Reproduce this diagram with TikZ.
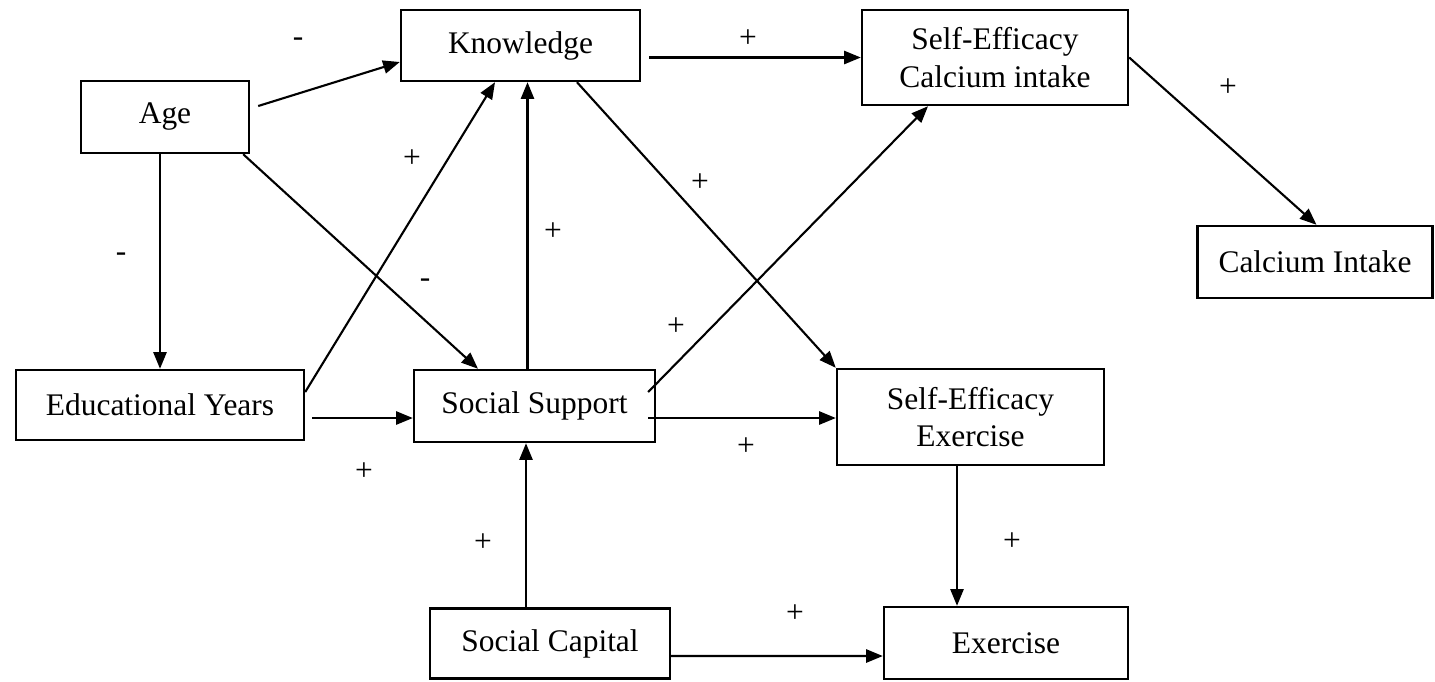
\documentclass[tikz,border=0pt]{standalone}
\usepackage{fontspec}
\setmainfont{Liberation Serif}
\usetikzlibrary{arrows.meta}

\begin{document}
\begin{tikzpicture}[
  x=0.02cm, y=-0.02cm,
  box/.style={draw,line width=1.4pt,align=center,inner sep=0pt,font=\fontsize{17.9}{21.5}\selectfont},
  arrow/.style={-{Triangle[length=9.5pt,width=7.5pt]},line width=1.2pt},
  sign/.style={inner sep=0pt,font=\fontsize{17.9}{21.5}\selectfont}
]
\useasboundingbox (0,0) rectangle (1435,681);
% variables
\node[box,minimum width=3.36cm,minimum height=1.44cm] (age) at (165,117) {Age};
\node[box,minimum width=4.78cm,minimum height=1.42cm] (know) at (520.5,45.5) {Knowledge};
\node[box,minimum width=5.32cm,minimum height=1.9cm] (sec) at (995,57.5) {Self-Efficacy\\Calcium intake};
\node[box,minimum width=4.7cm,minimum height=1.44cm] (ci) at (1315,262) {Calcium Intake};
\node[box,minimum width=5.76cm,minimum height=1.4cm] (edu) at (160,405) {Educational Years};
\node[box,minimum width=4.82cm,minimum height=1.44cm] (ss) at (534.5,406) {Social Support};
\node[box,minimum width=5.34cm,minimum height=1.92cm] (see) at (970.5,417) {Self-Efficacy\\Exercise};
\node[box,minimum width=4.8cm,minimum height=1.4cm] (soc) at (550,643.5) {Social Capital};
\node[box,minimum width=4.88cm,minimum height=1.44cm] (ex) at (1006,643) {Exercise};
% paths
\draw[arrow] ([shift={(8,-11)}]age.east) -- ([shift={(0,16.5)}]know.west);
\draw[arrow] ([shift={(8,12)}]know.east) -- (sec.west);
\draw[arrow] (sec.east) -- ([shift={(1.5,0)}]ci.north);
\draw[arrow] (age.south -| edu.north) -- (edu.north);
\draw[arrow] ([shift={(-7,0)}]age.south east) -- ([shift={(-56.5,0)}]ss.north);
\draw[arrow] ([shift={(0,-13)}]edu.east) -- ([shift={(-25.5,0)}]know.south);
\draw[arrow] ([shift={(7,13)}]edu.east) -- ([shift={(0,12)}]ss.west);
\draw[arrow] ([shift={(-7,0)}]ss.north) -- ([shift={(-7,0)}]ss.north |- know.south);
\draw[arrow] ([shift={(-24,0)}]soc.north) -- ([shift={(-24,0)}]soc.north |- ss.south);
\draw[arrow] ([shift={(56.5,0)}]know.south) -- (see.north west);
\draw[arrow] ([shift={(-8,-14)}]ss.east) -- ([shift={(-67,0)}]sec.south);
\draw[arrow] ([shift={(-8,12)}]ss.east) -- ([shift={(0,1)}]see.west);
\draw[arrow] ([shift={(-13.5,0)}]see.south) -- ([shift={(-13.5,0)}]see.south |- ex.north);
\draw[arrow] ([shift={(0,12.5)}]soc.east) -- ([shift={(0,13)}]ex.west);
% signs
\node[sign] (sAgeKnow) at (298,42) {-};
\node[sign] (sKnowSec) at (748,39) {+};
\node[sign] (sSecCi) at (1228,88) {+};
\node[sign] (sEduKnow) at (412,159) {+};
\node[sign] (sSsKnow) at (553,232) {+};
\node[sign] (sKnowSee) at (700,183) {+};
\node[sign] (sAgeEdu) at (121,257) {-};
\node[sign] (sAgeSs) at (425,283) {-};
\node[sign] (sSsSec) at (676,327) {+};
\node[sign] (sEduSs) at (364,472) {+};
\node[sign] (sSsSee) at (746,447) {+};
\node[sign] (sSocSs) at (483,543) {+};
\node[sign] (sSeeEx) at (1012,542) {+};
\node[sign] (sSocEx) at (795,614) {+};
\end{tikzpicture}
\end{document}
